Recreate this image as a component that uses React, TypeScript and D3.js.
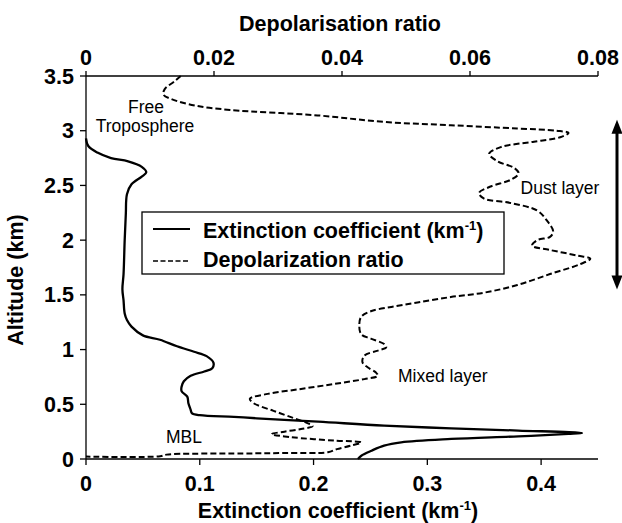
import React from "react";
import * as d3 from "d3";

// altitude (km), extinction coefficient (km^-1)
const extAlt = [2.93, 2.86, 2.8, 2.75, 2.72, 2.67, 2.62, 2.58, 2.51, 2.42, 2.24, 2.0, 1.69, 1.55, 1.45, 1.33, 1.27, 1.21, 1.13, 1.09, 1.03, 0.98, 0.94, 0.88, 0.83, 0.8, 0.76, 0.71, 0.66, 0.62, 0.57, 0.51, 0.45, 0.42, 0.4, 0.385, 0.372, 0.341, 0.305, 0.28, 0.26, 0.238, 0.229, 0.207, 0.183, 0.152, 0.122, 0.076, 0.03, 0];
const extVal = [0, 0.002, 0.01, 0.022, 0.037, 0.049, 0.053, 0.049, 0.04, 0.036, 0.035, 0.034, 0.033, 0.032, 0.033, 0.034, 0.036, 0.04, 0.05, 0.065, 0.08, 0.095, 0.106, 0.112, 0.111, 0.104, 0.092, 0.086, 0.084, 0.084, 0.089, 0.09, 0.092, 0.093, 0.1, 0.13, 0.15, 0.204, 0.262, 0.321, 0.38, 0.436, 0.424, 0.38, 0.321, 0.277, 0.262, 0.251, 0.242, 0.239];

// altitude (km), depolarisation ratio
const depAlt = [3.5, 3.45, 3.38, 3.33, 3.29, 3.23, 3.19, 3.14, 3.08, 3.05, 3.02, 3.0, 2.98, 2.94, 2.9, 2.85, 2.79, 2.72, 2.66, 2.61, 2.55, 2.49, 2.43, 2.38, 2.34, 2.27, 2.18, 2.08, 2.03, 2.0, 1.95, 1.91, 1.86, 1.83, 1.78, 1.69, 1.59, 1.52, 1.48, 1.43, 1.39, 1.35, 1.3, 1.22, 1.14, 1.1, 1.05, 1.02, 0.99, 0.945, 0.884, 0.838, 0.79, 0.76, 0.73, 0.686, 0.64, 0.595, 0.55, 0.51, 0.44, 0.375, 0.33, 0.3, 0.274, 0.25, 0.228, 0.2, 0.168, 0.152, 0.122, 0.09, 0.062, 0.055, 0.05, 0.04, 0.025, 0.022];
const depVal = [0.0148, 0.0138, 0.0123, 0.0121, 0.0133, 0.017, 0.0225, 0.0362, 0.0466, 0.057, 0.0674, 0.0735, 0.0754, 0.0741, 0.07, 0.0648, 0.063, 0.0643, 0.0669, 0.0676, 0.0663, 0.0632, 0.0614, 0.0622, 0.0663, 0.0705, 0.072, 0.073, 0.0725, 0.0705, 0.0697, 0.0725, 0.0767, 0.0788, 0.0772, 0.0725, 0.0674, 0.0622, 0.057, 0.0518, 0.0477, 0.0445, 0.043, 0.0427, 0.043, 0.0445, 0.0466, 0.0469, 0.0456, 0.0435, 0.0432, 0.044, 0.0453, 0.0456, 0.0435, 0.0388, 0.0336, 0.0284, 0.0256, 0.0262, 0.0293, 0.0324, 0.0345, 0.0354, 0.0336, 0.031, 0.029, 0.032, 0.0388, 0.043, 0.0414, 0.0392, 0.0378, 0.031, 0.0246, 0.0126, 0.0116, 0];

const altTicks = [0, 0.5, 1, 1.5, 2, 2.5, 3, 3.5];
const extTicks = [0, 0.1, 0.2, 0.3, 0.4];
const depTicks = [0, 0.02, 0.04, 0.06, 0.08];

const W = 622, H = 523;
const L = 86, R = 598, T = 76, B = 459;
const FONT = "'Liberation Sans', Arial, sans-serif";
const FS = 21.5;

export default function App() {
  const y = d3.scaleLinear().domain([0, 3.5]).range([B, T]);
  const xb = d3.scaleLinear().domain([0, 0.45]).range([L, R]);
  const xt = d3.scaleLinear().domain([0, 0.08]).range([L, R]);

  const extLine = d3.line<number>()
    .x((_, i) => xb(extVal[i]))
    .y((a) => y(a))
    .curve(d3.curveCatmullRom.alpha(0.5));
  const depLine = d3.line<number>()
    .x((_, i) => xt(depVal[i]))
    .y((a) => y(a))
    .curve(d3.curveCatmullRom.alpha(0.5));

  const arrowX = 617, arrowTop = y(3.1), arrowBot = y(1.55);

  return (
    <svg width={W} height={H} style={{ position: "absolute", left: 0, top: 0, background: "#fff" }} fontFamily={FONT}>
      {/* axes lines */}
      <line x1={L} x2={L} y1={T} y2={B} stroke="#000" strokeWidth={1.3} />
      <line x1={L} x2={R} y1={B} y2={B} stroke="#000" strokeWidth={1.3} />
      <line x1={L} x2={R} y1={T} y2={T} stroke="#000" strokeWidth={1.3} />

      {altTicks.map((t) => (
        <g key={"a" + t}>
          <line x1={L - 6} x2={L} y1={y(t)} y2={y(t)} stroke="#000" strokeWidth={1.3} />
          <text x={74} y={y(t) + 7.5} textAnchor="end" fontSize={FS} fontWeight="bold">{String(t)}</text>
        </g>
      ))}
      {extTicks.map((t) => (
        <g key={"e" + t}>
          <line x1={xb(t)} x2={xb(t)} y1={B} y2={B + 6} stroke="#000" strokeWidth={1.3} />
          <text x={xb(t)} y={491} textAnchor="middle" fontSize={FS} fontWeight="bold">{String(t)}</text>
        </g>
      ))}
      {depTicks.map((t) => (
        <g key={"d" + t}>
          <line x1={xt(t)} x2={xt(t)} y1={T - 5} y2={T} stroke="#000" strokeWidth={1.3} />
          <text x={xt(t)} y={65} textAnchor="middle" fontSize={FS} fontWeight="bold">{String(t)}</text>
        </g>
      ))}

      {/* axis titles */}
      <text x={340} y={31} textAnchor="middle" fontSize={FS} fontWeight="bold">Depolarisation ratio</text>
      <text x={338} y={518} textAnchor="middle" fontSize={FS} fontWeight="bold">
        Extinction coefficient (km<tspan dy={-8} fontSize={13}>-1</tspan><tspan dy={8}>)</tspan>
      </text>
      <text transform={`translate(23,280) rotate(-90)`} textAnchor="middle" fontSize={FS} fontWeight="bold">Altitude (km)</text>

      {/* data */}
      <path d={extLine(extAlt) || ""} fill="none" stroke="#000" strokeWidth={2.3} />
      <path d={depLine(depAlt) || ""} fill="none" stroke="#000" strokeWidth={2} strokeDasharray="6,3" />

      {/* annotations */}
      <text x={146} y={113} textAnchor="middle" fontSize={17.5}>Free</text>
      <text x={145} y={132} textAnchor="middle" fontSize={17.5}>Troposphere</text>
      <text x={560} y={194} textAnchor="middle" fontSize={17.5}>Dust layer</text>
      <text x={398} y={382} fontSize={17.5}>Mixed layer</text>
      <text x={166} y={443} fontSize={17.5}>MBL</text>

      {/* double arrow */}
      <line x1={arrowX} x2={arrowX} y1={arrowTop + 10} y2={arrowBot - 10} stroke="#000" strokeWidth={3} />
      <path d={`M${arrowX},${arrowTop} L${arrowX - 5.5},${arrowTop + 14} L${arrowX + 5.5},${arrowTop + 14} Z`} fill="#000" />
      <path d={`M${arrowX},${arrowBot} L${arrowX - 5.5},${arrowBot - 14} L${arrowX + 5.5},${arrowBot - 14} Z`} fill="#000" />

      {/* legend */}
      <rect x={142} y={212} width={362} height={62} fill="#fff" stroke="#000" strokeWidth={1.3} />
      <line x1={153} x2={190} y1={229} y2={229} stroke="#000" strokeWidth={2} />
      <line x1={153} x2={190} y1={261} y2={261} stroke="#000" strokeWidth={1.5} strokeDasharray="5,2.5" />
      <text x={203} y={238} fontSize={FS} fontWeight="bold">
        Extinction coefficient (km<tspan dy={-8} fontSize={13}>-1</tspan><tspan dy={8}>)</tspan>
      </text>
      <text x={203} y={267} fontSize={FS} fontWeight="bold">Depolarization ratio</text>
    </svg>
  );
}
